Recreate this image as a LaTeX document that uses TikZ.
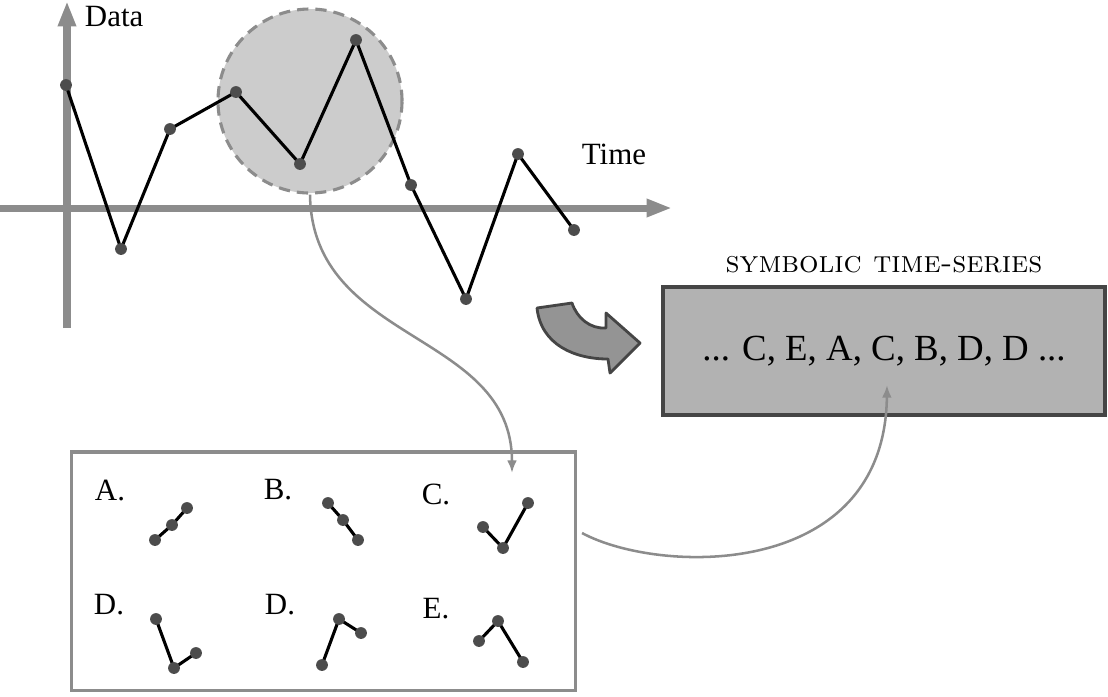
\documentclass[tikz,border=0pt]{standalone}
\usepackage{fontspec}
\newfontfamily\timesfont{Liberation Serif}
\usepackage{tikz}
\usetikzlibrary{arrows.meta,calc,positioning}
\definecolor{axisgray}{gray}{0.55}
\definecolor{dotgray}{gray}{0.3}
\definecolor{zoomgray}{gray}{0.8}
\definecolor{boxgray}{gray}{0.7}
\definecolor{edgegray}{gray}{0.27}
\definecolor{bendgray}{gray}{0.58}

\begin{document}
\begin{tikzpicture}[x=0.0125cm,y=-0.0125cm,
    font=\timesfont\fontsize{11}{13}\selectfont,
    dot/.style={circle,fill=dotgray,inner sep=0pt,minimum size=4.2pt},
    glyph/.style={black,line width=1.1pt},
    axis/.style={axisgray,line width=2.5pt,-{Triangle[width=6pt,length=9pt]}},
    link/.style={axisgray,line width=0.9pt,-{Latex[length=4.5pt,width=3.5pt]}}]
    \useasboundingbox (0,0) rectangle (1108,696);
    % axes
    \draw[axis] (67,328) -- (67,1);
    \draw[axis] (0,208) -- (672,208);
    \node[right] (datalbl) at (75,17) {Data};
    \node (timelbl) at (614,154) {Time};
    % zoomed window
    \node[circle,draw=axisgray,fill=zoomgray,line width=1.1pt,dash pattern=on 4pt off 2.5pt,
          minimum size=2.3cm] (window) at (310,101) {};
    % series
    \draw[glyph] (66,85) node[dot](p1){} -- (121,249) node[dot](p2){} -- (170,129) node[dot](p3){}
          -- (236,92) node[dot](p4){} -- (300,164) node[dot](p5){} -- (356,40) node[dot](p6){}
          -- (411,185) node[dot](p7){} -- (466,299) node[dot](p8){} -- (518,154) node[dot](p9){}
          -- (574,230) node[dot](p10){};
    % symbolic sequence
    \node[draw=edgegray,fill=boxgray,line width=1.2pt,minimum width=5.52cm,minimum height=1.6cm]
          (seq) at (884,351) {\fontsize{13.1}{15}\selectfont ... C, E, A, C, B, D, D ...};
    \node[above=1pt of seq,font=\rmfamily\fontsize{10.9}{13}\selectfont] (seqtitle)
          {\textsc{symbolic time-series}};
    \draw[fill=bendgray,draw=edgegray,line width=1pt,line join=round]
          (537,308) -- (572,303) .. controls (577,318) and (590,329) .. (606,328)
          -- (606,313) -- (640,343) -- (610,373) -- (608,359)
          .. controls (575,359) and (541,345) .. (537,308) -- cycle;
    % alphabet
    \node[draw=axisgray,line width=1.1pt,minimum width=6.29cm,minimum height=2.975cm]
          (alphabet) at (323.5,571) {};
    \node (lblA) at (110,490) {A.};
    \node (lblB) at (278,490) {B.};
    \node (lblC) at (436,494) {C.};
    \node (lblD) at (109,605) {D.};
    \node (lblDD) at (280,605) {D.};
    \node (lblE) at (436,609) {E.};
    \draw[glyph] (155,540) node[dot](a1){} -- (172,525) node[dot](a2){} -- (187,508) node[dot](a3){};
    \draw[glyph] (328,503) node[dot](b1){} -- (343,520) node[dot](b2){} -- (358,540) node[dot](b3){};
    \draw[glyph] (483,527) node[dot](c1){} -- (503,548) node[dot](c2){} -- (528,503) node[dot](c3){};
    \draw[glyph] (156,619) node[dot](d1){} -- (174,668) node[dot](d2){} -- (196,653) node[dot](d3){};
    \draw[glyph] (322,665) node[dot](dd1){} -- (339,619) node[dot](dd2){} -- (361,633) node[dot](dd3){};
    \draw[glyph] (479,641) node[dot](e1){} -- (498,621) node[dot](e2){} -- (523,662) node[dot](e3){};
    % connectors
    \coordinate (intoC) at (512,473);
    \coordinate (fromC) at (582,533);
    \coordinate (toseq) at (887,385);
    \draw[link] (window.south) .. controls (312,345) and (512,330) .. (intoC);
    \draw[link] (fromC) .. controls (660,575) and (885,580) .. (toseq);
\end{tikzpicture}
\end{document}
